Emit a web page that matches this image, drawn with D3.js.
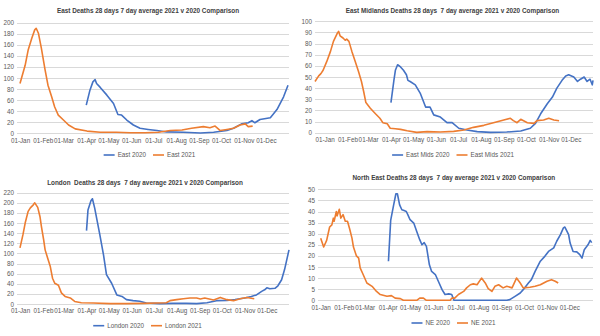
<!DOCTYPE html>
<html>
<head>
<meta charset="utf-8">
<script src="https://cdn.jsdelivr.net/npm/d3@7"></script>
<style>
  body { margin: 0; background: #fff; }
  svg { display: block; font-family: "Liberation Sans", Arial, sans-serif; }
</style>
</head>
<body>
<svg width="600" height="336"></svg>
<script>
// month labels on the x axis
const monthStarts = ["2021-01-01","2021-02-01","2021-03-01","2021-04-01","2021-05-01","2021-06-01",
                     "2021-07-01","2021-08-01","2021-09-01","2021-10-01","2021-11-01","2021-12-01"];

const ticksEast = [0,20,40,60,80,100,120,140,160,180,200];
const ticksEastMids = [0,10,20,30,40,50,60,70,80,90,100];
const ticksLondon = [0,20,40,60,80,100,120,140,160,180,200,220];
const ticksNE = [0,5,10,15,20,25,30,35,40,45,50];

// East
const eastDates2020 = ["2020-04-01","2020-04-06","2020-04-10","2020-04-13","2020-04-15","2020-04-20","2020-04-29","2020-05-08","2020-05-14","2020-05-19",
  "2020-05-26","2020-06-04","2020-06-13","2020-06-24","2020-07-06","2020-07-19","2020-08-11","2020-09-03","2020-09-21","2020-10-09",
  "2020-10-18","2020-10-29","2020-11-07","2020-11-12","2020-11-16","2020-11-23","2020-12-07","2020-12-16","2020-12-25","2020-12-31"];
const east2020 = [51,78,93,97,90,83,69,54,34,33, 24,15,9,7,5,2.5,2,0.5,2,5, 9,17,19,23,19,25,28,43,66,87];
const eastDates2021 = ["2021-01-01","2021-01-08","2021-01-12","2021-01-17","2021-01-21","2021-01-23","2021-01-26","2021-01-30","2021-02-04","2021-02-08",
  "2021-02-13","2021-02-17","2021-02-22","2021-03-01","2021-03-08","2021-03-17","2021-04-02","2021-04-20","2021-05-12","2021-05-31",
  "2021-06-20","2021-07-08","2021-07-24","2021-08-09","2021-08-22","2021-09-07","2021-09-16","2021-09-23","2021-09-30","2021-10-09",
  "2021-10-18","2021-10-27","2021-11-03","2021-11-07","2021-11-13"];
const east2021 = [90,123,150,172,187,190,181,154,115,87, 66,48,33,24,15,8,4,2,2,1, 1,2,5,6,9,12,10,13,5,7, 9,15,17,12,13];

// East Midlands
const emDates2020 = ["2020-04-01","2020-04-05","2020-04-07","2020-04-10","2020-04-14","2020-04-18","2020-04-22","2020-04-24","2020-04-27","2020-05-04",
  "2020-05-11","2020-05-18","2020-05-24","2020-05-29","2020-06-07","2020-06-16","2020-06-23","2020-07-02","2020-07-13","2020-07-27",
  "2020-08-14","2020-09-05","2020-09-24","2020-10-07","2020-10-14","2020-10-21","2020-10-30","2020-11-06","2020-11-12","2020-11-19",
  "2020-11-24","2020-11-28","2020-12-05","2020-12-10","2020-12-14","2020-12-19","2020-12-23","2020-12-27","2020-12-30","2020-12-31"];
const em2020 = [27,47,56,61,59,56,52,47,46,43, 35,23,23,16,14,9,9,4,2.4,1, 0.3,0.6,1.5,4,8.4,17,26,32,40,47, 51,52,50,46,48,50,46,48,43,47];
const emDates2021 = ["2020-12-19","2020-12-24","2020-12-27","2020-12-30","2021-01-04","2021-01-09","2021-01-13","2021-01-18","2021-01-20","2021-01-22",
  "2021-01-26","2021-01-29","2021-01-31","2021-02-03","2021-02-07","2021-02-12","2021-02-16","2021-02-20","2021-02-23","2021-02-26",
  "2021-03-04","2021-03-11","2021-03-17","2021-03-21","2021-03-27","2021-03-31","2021-04-07","2021-04-14","2021-04-23","2021-05-06",
  "2021-05-20","2021-06-07","2021-06-25","2021-07-09","2021-07-22","2021-08-05","2021-08-18","2021-09-01","2021-09-10","2021-09-14",
  "2021-09-19","2021-09-24","2021-10-03","2021-10-12","2021-10-16","2021-10-25","2021-11-01","2021-11-08","2021-11-15"];
const em2021 = [46,51,53,56,64,73,82,89,91,87, 85,83,84,82,73,63,55,46,37,27, 22,17,13,9,8,4,3.6,3,1.8,0.3, 1,0.6,1.2,2.4,4.8,6.6,9,11.4,12.9,10.8, 9,12,9,8.4,10.8,11.4,12.9,11.4,10.8];

// London
const lonDates2020 = ["2020-04-01","2020-04-03","2020-04-07","2020-04-09","2020-04-12","2020-04-16","2020-04-19","2020-04-24","2020-04-28","2020-05-05",
  "2020-05-12","2020-05-19","2020-05-25","2020-06-03","2020-06-12","2020-06-21","2020-07-09","2020-07-27","2020-08-14","2020-08-28",
  "2020-09-11","2020-09-24","2020-10-08","2020-10-19","2020-11-01","2020-11-10","2020-11-17","2020-11-24","2020-11-28","2020-12-01",
  "2020-12-05","2020-12-12","2020-12-16","2020-12-21","2020-12-25","2020-12-31"];
const lon2020 = [145,186,204,208,190,160,137,97,58,41, 18,15,8.6,6.6,5.3,2,0.7,1.3,1.3,0.7, 2.6,6.6,7,9,12,15,18,25,28,32, 30,31,36,48,68,107];
const lonDates2021 = ["2021-01-01","2021-01-05","2021-01-08","2021-01-12","2021-01-15","2021-01-19","2021-01-21","2021-01-25","2021-01-28","2021-01-30",
  "2021-02-02","2021-02-04","2021-02-08","2021-02-11","2021-02-14","2021-02-17","2021-02-22","2021-02-26","2021-03-03","2021-03-10",
  "2021-03-16","2021-03-25","2021-04-10","2021-05-03","2021-05-25","2021-06-17","2021-07-05","2021-07-18","2021-07-23","2021-08-01",
  "2021-08-10","2021-08-19","2021-08-28","2021-09-02","2021-09-08","2021-09-20","2021-09-29","2021-10-08","2021-10-17","2021-10-26",
  "2021-11-04","2021-11-14"];
const lon2021 = [111,137,160,183,190,196,200,191,173,153, 127,107,88,74,51,41,37,22,15,12, 5,2.6,2,0.7,0.7,1.3,2,2.6,6.6,8.6, 10.5,12,12,10,12,8,13,8.6,6.6,10.5, 13,10.5];

// North East
const neDates2020 = ["2020-04-02","2020-04-05","2020-04-09","2020-04-12","2020-04-14","2020-04-17","2020-04-20","2020-04-23","2020-04-26","2020-04-28",
  "2020-05-01","2020-05-06","2020-05-10","2020-05-14","2020-05-17","2020-05-20","2020-05-23","2020-05-27","2020-05-30","2020-06-04",
  "2020-06-08","2020-06-13","2020-06-17","2020-06-22","2020-06-26","2020-06-29","2020-09-08","2020-09-12","2020-09-19","2020-09-26",
  "2020-09-30","2020-10-07","2020-10-11","2020-10-16","2020-10-23","2020-10-29","2020-11-03","2020-11-10","2020-11-14","2020-11-19",
  "2020-11-23","2020-11-25","2020-11-30","2020-12-02","2020-12-06","2020-12-11","2020-12-15","2020-12-18","2020-12-21","2020-12-26",
  "2020-12-29","2020-12-31"];
const ne2020 = [17.6,36,43,48,48,43,40.8,40.4,40,38.6, 36.3,34.8,31,27.3,25,26,24.3,16,13,11.6, 8.6,4.8,2.6,2.9,2.6,0,0,0.3,1.8,3.3,
  4.8,7.8,9.3,13,17.6,19.8,22,23.6,26.6,29.6, 32.6,33,29.6,25.8,22,21.8,20.6,19,22.8,25, 27,26];
const neDates2021 = ["2021-01-01","2021-01-05","2021-01-09","2021-01-13","2021-01-16","2021-01-18","2021-01-19","2021-01-22","2021-01-23","2021-01-26",
  "2021-01-28","2021-01-31","2021-02-03","2021-02-06","2021-02-09","2021-02-12","2021-02-14","2021-02-18","2021-02-21","2021-02-23",
  "2021-02-27","2021-03-04","2021-03-11","2021-03-17","2021-03-22","2021-03-31","2021-04-06","2021-04-11","2021-04-18","2021-04-22",
  "2021-05-10","2021-05-14","2021-05-19","2021-05-23","2021-06-24","2021-06-26","2021-06-30","2021-07-05","2021-07-12","2021-07-16",
  "2021-07-21","2021-07-25","2021-07-30","2021-08-05","2021-08-10","2021-08-14","2021-08-19","2021-08-23","2021-08-28","2021-09-03",
  "2021-09-08","2021-09-15","2021-09-21","2021-09-26","2021-09-30","2021-10-09","2021-10-16","2021-10-23","2021-11-01","2021-11-07",
  "2021-11-12","2021-11-16"];
const ne2021 = [28,24,27,33,34,37,35.6,40,38,41, 37,38.6,35.6,35.6,32,28,24,20,19,14.6, 11.6,7.8,6.3,4,2.6,1.8,2.1,1,0.75,0,
  0,1,1,0,0,1,1,2.6,4,5.6, 7,7.4,7,10,7.8,5.3,4,6.3,7,5.6, 6.3,5.6,10,7.8,5.6,5.9,6.3,7,8.6,9.3, 8.6,7.8];

const blue = "#4472c4", orange = "#ed7d31";
const parse = d3.timeParse("%Y-%m-%d");

const panels = [
  { title: "East Deaths 28 days 7 day average 2021 v 2020 Comparison", names: ["East 2020", "East 2021"],
    d20: eastDates2020, v20: east2020, d21: eastDates2021, v21: east2021, ticks: ticksEast,
    start: "2021-01-01", left: 17, x0: 20, x1: 288, right: 289, y0: 133.3, yTop: 22.7,
    titleX: 148, titleY: 12.5, legendX: 149.5, legendY: 155 },
  { title: "East Midlands Deaths 28 days  7 day average 2021 v 2020 Comparison", names: ["East Mids 2020", "East Mids 2021"],
    d20: emDates2020, v20: em2020, d21: emDates2021, v21: em2021, ticks: ticksEastMids,
    start: "2020-12-19", left: 315, x0: 315, x1: 593, right: 593, y0: 132.7, yTop: 21.3,
    titleX: 452.5, titleY: 12.5, legendX: 453, legendY: 155 },
  { title: "London  Deaths 28 days  7 day average 2021 v 2020 Comparison", names: ["London 2020", "London 2021"],
    d20: lonDates2020, v20: lon2020, d21: lonDates2021, v21: lon2021, ticks: ticksLondon,
    start: "2021-01-01", left: 17, x0: 20, x1: 289, right: 289, y0: 304, yTop: 192.7,
    titleX: 145, titleY: 184.5, legendX: 147.5, legendY: 325.7 },
  { title: "North East Deaths 28 days  7 day average 2021 v 2020 Comparison", names: ["NE 2020", "NE 2021"],
    d20: neDates2020, v20: ne2020, d21: neDates2021, v21: ne2021, ticks: ticksNE,
    start: "2021-01-01", left: 318, x0: 320.7, x1: 591.7, right: 593, y0: 300.3, yTop: 189.3,
    titleX: 453.8, titleY: 179.8, legendX: 453.5, legendY: 323 }
];

const svg = d3.select("svg");

panels.forEach(p => {
  const g = svg.append("g");

  const x = d3.scaleTime()
    .domain([parse(p.start), parse("2021-12-31")])
    .range([p.x0, p.x1]);
  const y = d3.scaleLinear()
    .domain([0, d3.max(p.ticks)])
    .range([p.y0, p.yTop]);

  // gridlines + y labels
  const yAxis = g.append("g")
    .attr("transform", `translate(${p.left},0)`)
    .call(d3.axisLeft(y).tickValues(p.ticks).tickSize(-(p.right - p.left)).tickPadding(3));
  yAxis.select(".domain").remove();
  yAxis.selectAll("line").attr("stroke", "#d9d9d9").attr("shape-rendering", "crispEdges");
  yAxis.selectAll("text").attr("fill", "#595959").style("font-size", "6.3px");

  // month labels
  const xAxis = g.append("g")
    .attr("transform", `translate(0,${p.y0})`)
    .call(d3.axisBottom(x).tickValues(monthStarts.map(parse)).tickFormat(d3.timeFormat("%d-%b")).tickSize(0).tickPadding(5));
  xAxis.select(".domain").remove();
  xAxis.selectAll("text").attr("fill", "#595959").style("font-size", "6.3px");

  const line = d3.line().x(d => x(d[0])).y(d => y(d[1]));
  // 2020 values are laid on the same calendar as 2021
  const s20 = p.d20.map((d, i) => [d3.timeYear.offset(parse(d), 1), p.v20[i]]);
  const s21 = p.d21.map((d, i) => [parse(d), p.v21[i]]);

  g.append("path").datum(s20).attr("d", line)
    .attr("fill", "none").attr("stroke", blue).attr("stroke-width", 1.6).attr("stroke-linejoin", "round");
  g.append("path").datum(s21).attr("d", line)
    .attr("fill", "none").attr("stroke", orange).attr("stroke-width", 1.6).attr("stroke-linejoin", "round");

  g.append("text")
    .attr("x", p.titleX).attr("y", p.titleY)
    .attr("text-anchor", "middle")
    .style("font-size", "6.4px").style("font-weight", "bold").style("white-space", "pre")
    .attr("fill", "#404040")
    .text(p.title);

  // legend
  const legend = g.append("g");
  let cx = 0;
  [blue, orange].forEach((c, i) => {
    legend.append("line").attr("x1", cx).attr("x2", cx + 11).attr("y1", 0).attr("y2", 0)
      .attr("stroke", c).attr("stroke-width", 1.6);
    const t = legend.append("text").attr("x", cx + 14).attr("y", 2.2)
      .style("font-size", "6.3px").attr("fill", "#595959").text(p.names[i]);
    cx += 14 + t.node().getComputedTextLength() + 7;
  });
  const w = cx - 7;
  legend.attr("transform", `translate(${p.legendX - w / 2},${p.legendY})`);
});
</script>
</body>
</html>
